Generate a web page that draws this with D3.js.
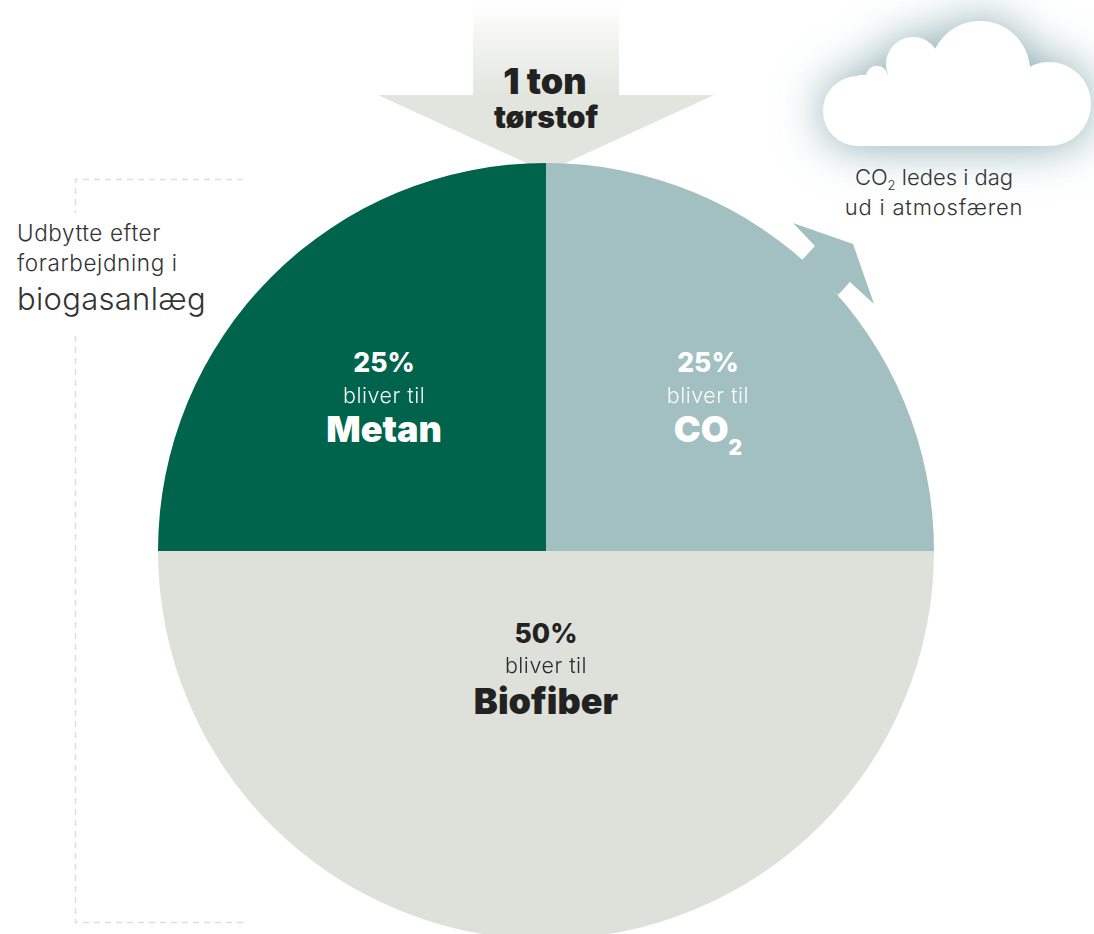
<!DOCTYPE html>
<html><head><meta charset="utf-8">
<script src="https://cdn.jsdelivr.net/npm/d3@7"></script>
<style>
html,body{margin:0;padding:0;background:#fff}
svg{display:block}
text{font-family:Inter,"Open Sans",sans-serif}
</style></head><body>
<svg id="c" width="1094" height="934"></svg>
<script>
const categories=["CO2","Biofiber","Metan"];
const values=[25,50,25];
const prefixLabel="bliver til";
const colors=["#a2bfc2","#dee1d9","#00634b"];
const textColors=["#ffffff","#222222","#ffffff"];

const W=1094,H=934,cx=546,cy=551,R=388;
const svg=d3.select("#c").attr("viewBox",[0,0,W,H]);
const defs=svg.append("defs");

const grad=defs.append("linearGradient").attr("id","fade").attr("x1",0).attr("x2",0).attr("y1",0).attr("y2",1);
grad.append("stop").attr("offset",0.02).attr("stop-color","#e2e5de").attr("stop-opacity",0);
grad.append("stop").attr("offset",1).attr("stop-color","#e2e5de").attr("stop-opacity",1);

const glow=defs.append("filter").attr("id","glow").attr("x","-40%").attr("y","-80%").attr("width","180%").attr("height","260%");
glow.append("feDropShadow").attr("dx",0).attr("dy",0).attr("stdDeviation",24).attr("flood-color","#6f9aa1").attr("flood-opacity",0.85);

// incoming arrow
svg.append("rect").attr("x",473).attr("y",0).attr("width",146).attr("height",95).attr("fill","url(#fade)");
svg.append("path").attr("d",d3.line()([[378,95],[714,95],[546,172]])+"Z").attr("fill","#e2e5de");

// bracket
const bracket=svg.append("g").attr("fill","none").attr("stroke","#dddfd8").attr("stroke-width",1.4).attr("stroke-dasharray","6 5");
bracket.append("path").attr("d","M243,179.5H75.5V213");
bracket.append("path").attr("d","M243,922.5H75.5V331");

// pie
const pie=d3.pie().sort(null).value(d=>d).startAngle(0).endAngle(2*Math.PI);
const arcs=pie(values);
const arc=d3.arc().innerRadius(0).outerRadius(R);
const g=svg.append("g").attr("transform",`translate(${cx},${cy})`);
g.selectAll("path").data(arcs).join("path").attr("d",arc).attr("fill",(d,i)=>colors[i]);

// outgoing CO2 arrow
svg.append("path").attr("d",d3.line()([[793,223],[853,244],[874,304],[850,282],[838,295],[802,260],[815,246]])+"Z").attr("fill",colors[0]);

// cloud
const cloud=svg.append("g").attr("fill","#fff").attr("filter","url(#glow)");
[[858,111,35],[1049,104,42],[980,71,50],[913,64,27],[877,77,11]].forEach(c=>
  cloud.append("circle").attr("cx",c[0]).attr("cy",c[1]).attr("r",c[2]));
cloud.append("rect").attr("x",858).attr("y",75).attr("width",191).attr("height",71);

// slice labels
const lab=svg.append("g").attr("text-anchor","middle");
arcs.forEach((d,i)=>{
  const half=values[i]>=50;
  const c=d3.arc().innerRadius(0).outerRadius(half?228:458).centroid(d);
  const x=cx+c[0], y=half?cy+110:cy+c[1];
  const t=lab.append("g").attr("transform",`translate(${x},${y})`).attr("fill",textColors[i]);
  t.append("text").attr("y",half?-18:-17).attr("font-size",26.5).attr("font-weight",800).text(values[i]+"%");
  t.append("text").attr("y",half?12:14).attr("font-size",21.5).attr("font-weight",300).attr("letter-spacing",0.5).attr("opacity",0.95).text(prefixLabel);
  const name=t.append("text").attr("y",half?53:53).attr("font-size",36).attr("font-weight",900);
  if(categories[i]==="CO2"){
    name.append("tspan").text("CO");
    name.append("tspan").attr("font-size",21).attr("dy",13).text("2");
  } else name.text(categories[i]);
});

// top label
const topLabel=svg.append("g").attr("text-anchor","middle").attr("fill","#222");
topLabel.append("text").attr("x",545).attr("y",94).attr("font-size",36).attr("font-weight",900).text("1 ton");
topLabel.append("text").attr("x",546).attr("y",128).attr("font-size",30).attr("font-weight",900).text("tørstof");

// cloud note
const note=svg.append("g").attr("text-anchor","middle").attr("fill","#333").attr("font-weight",300).attr("font-size",22);
const n1=note.append("text").attr("x",934).attr("y",185);
n1.append("tspan").text("CO");
n1.append("tspan").attr("font-size",13).attr("dy",5).text("2");
n1.append("tspan").attr("dy",-5).text(" ledes i dag");
note.append("text").attr("x",934).attr("y",215).attr("letter-spacing",0.8).text("ud i atmosfæren");

// side note
const side=svg.append("g").attr("fill","#333").attr("font-weight",300);
side.append("text").attr("x",17).attr("y",241).attr("font-size",22.5).attr("letter-spacing",0.6).text("Udbytte efter");
side.append("text").attr("x",17).attr("y",271).attr("font-size",22.5).attr("letter-spacing",0.6).text("forarbejdning i");
side.append("text").attr("x",17).attr("y",310).attr("font-size",31).attr("letter-spacing",0.3).text("biogasanlæg");
</script>
</body></html>
